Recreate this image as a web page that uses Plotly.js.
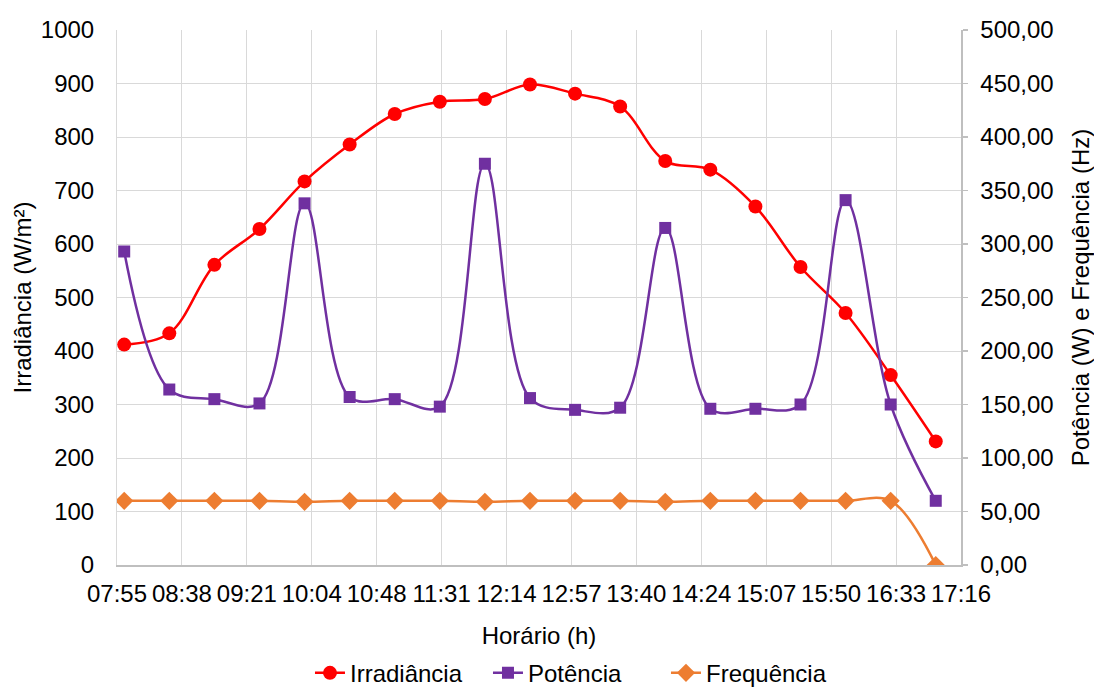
<!DOCTYPE html>
<html>
<head>
<meta charset="utf-8">
<script src="https://cdn.plot.ly/plotly-3.0.1.min.js"></script>
<style>
html,body{margin:0;padding:0;background:#fff;}
#chart{width:1094px;height:687px;}
</style>
</head>
<body>
<div id="chart"></div>
<script>
// Measurement times (every 30 min)
const times = ["08:00","08:30","09:00","09:30","10:00","10:30","11:00","11:30","12:00","12:30",
               "13:00","13:30","14:00","14:30","15:00","15:30","16:00","16:30","17:00"];
// Irradiância (W/m²) - left axis
const irradiancia = [412, 433, 561, 628, 717, 786, 843, 866, 871, 898, 881, 857, 755, 739, 670, 557, 471, 355, 231];
// Potência (W) - right axis
const potencia = [293, 164, 155, 151, 338, 157, 155, 148, 375, 156, 145, 147, 315, 146, 146, 150, 341, 150, 60];
// Frequência (Hz) - right axis
const frequencia = [60, 60, 60, 60, 59, 60, 60, 60, 59, 60, 60, 60, 59, 60, 60, 60, 60, 60, 0];
// X tick labels (Excel date axis: min 0.33 day, major unit 0.03 day)
const tickLabels = ["07:55","08:38","09:21","10:04","10:48","11:31","12:14","12:57","13:40","14:24","15:07","15:50","16:33","17:16"];
const axisMinDay = 0.33, axisMaxDay = 0.72, majorDay = 0.03;

function toMin(t){ const p = t.split(":"); return (+p[0])*60 + (+p[1]); }
const xs = times.map(toMin);
const tickVals = tickLabels.map((_, i) => (axisMinDay + i*majorDay) * 1440);

const FONT = "Liberation Sans, Arial, sans-serif";
const GRID = "#d9d9d9";
const FS = 24;

const traces = [
  {x: xs, y: irradiancia, name: "Irradiância", type: "scatter", mode: "lines+markers",
   line: {color: "#FF0000", width: 2.5, shape: "spline", smoothing: 1},
   marker: {symbol: "circle", size: 14, color: "#FF0000"}, yaxis: "y"},
  {x: xs, y: potencia, name: "Potência", type: "scatter", mode: "lines+markers",
   line: {color: "#7030A0", width: 2.5, shape: "spline", smoothing: 1},
   marker: {symbol: "square", size: 12, color: "#7030A0"}, yaxis: "y2"},
  {x: xs, y: frequencia, name: "Frequência", type: "scatter", mode: "lines+markers",
   line: {color: "#ED7D31", width: 2.5, shape: "spline", smoothing: 1},
   marker: {symbol: "diamond", size: 14, color: "#ED7D31"}, yaxis: "y2"}
];

const layout = {
  width: 1094, height: 687,
  margin: {l: 117, r: 133, t: 30, b: 122, pad: 0},
  paper_bgcolor: "#fff", plot_bgcolor: "#fff",
  separators: ",.",
  font: {family: FONT, size: FS, color: "#000"},
  showlegend: true,
  legend: {orientation: "h", xref: "paper", x: 0.545, xanchor: "center",
           yref: "container", y: 0.02, yanchor: "middle",
           entrywidth: 133, entrywidthmode: "pixels",
           font: {family: FONT, size: FS, color: "#000"}, traceorder: "normal",
           bgcolor: "rgba(0,0,0,0)"},
  xaxis: {
    type: "linear", range: [axisMinDay*1440, axisMaxDay*1440],
    tickmode: "array", tickvals: tickVals, ticktext: tickLabels,
    showgrid: true, gridcolor: GRID, gridwidth: 1,
    showline: true, linecolor: "#bfbfbf", linewidth: 1.5,
    ticks: "", zeroline: false, ticklabelstandoff: 7,
    tickfont: {family: FONT, size: FS, color: "#000"},
    title: {text: "Horário (h)", font: {family: FONT, size: FS, color: "#000"}, standoff: 21}
  },
  yaxis: {
    range: [0, 1000], dtick: 100, tick0: 0,
    showgrid: true, gridcolor: GRID, gridwidth: 1,
    showline: true, linecolor: GRID, linewidth: 1,
    ticks: "", zeroline: false, ticklabelstandoff: 17,
    tickfont: {family: FONT, size: FS, color: "#000"},
    title: {text: "Irradiância (W/m²)", font: {family: FONT, size: FS, color: "#000"}, standoff: 2}
  },
  yaxis2: {
    overlaying: "y", side: "right",
    range: [0, 500], dtick: 50, tick0: 0, tickformat: ".2f",
    showgrid: false, zeroline: false,
    showline: true, linecolor: "#bfbfbf", linewidth: 1.5,
    ticks: "outside", ticklen: 5, tickcolor: "#bfbfbf", tickwidth: 1.5,
    ticklabelstandoff: 8,
    tickfont: {family: FONT, size: FS, color: "#000"},
    title: {text: "Potência (W) e Frequência (Hz)", font: {family: FONT, size: FS, color: "#000"}, standoff: 23}
  }
};

Plotly.newPlot("chart", traces, layout, {displayModeBar: false, staticPlot: true});
</script>
</body>
</html>
